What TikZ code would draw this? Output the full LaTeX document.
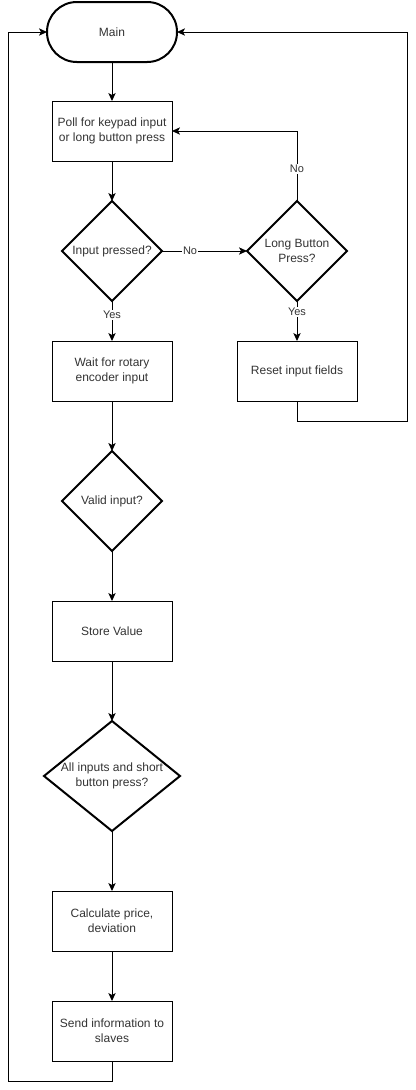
\documentclass[tikz,border=0pt]{standalone}
\usepackage{fontspec}
\setmainfont{Liberation Sans}
\usetikzlibrary{shapes.geometric,positioning,arrows.meta}
\tikzstyle{process} = [draw, line width=0.75pt, minimum width=90pt, minimum height=45pt, align=center, inner sep=0pt, outer sep=0pt]
\tikzstyle{decision} = [draw, diamond, line width=1.5pt, minimum width=75pt, minimum height=75pt, aspect=1, inner sep=0pt, outer sep=0pt, align=center]
\tikzstyle{terminal} = [draw, line width=1.5pt, rounded corners=22.4pt, minimum width=97.5pt, minimum height=45pt, outer sep=0pt]
\tikzstyle{flow} = [line width=0.75pt, -{Stealth[length=6pt,width=5.5pt,inset=1.5pt]}]
\tikzstyle{answer} = [fill=white, inner sep=1pt, text=black!80, font=\fontsize{8.25}{10}\selectfont]

\begin{document}
\begin{tikzpicture}[font=\fontsize{9}{11.25}\selectfont, text=black!80]
    \useasboundingbox (0,0) rectangle (312pt,-817.5pt);

    \node [terminal] (main) at (84pt,-24pt) {Main};
    \node [process, below=29.25pt of main] (poll) {Poll for keypad input\\or long button press};
    \node [decision, below=30pt of poll] (pressed) {Input pressed?};
    \node [decision, right=63.75pt of pressed] (long) {Long Button\\Press?};
    \node [process, below=30pt of pressed] (wait) {Wait for rotary\\encoder input};
    \node [process, below=30pt of long] (reset) {Reset input fields};
    \node [decision, below=37.5pt of wait] (valid) {Valid input?};
    \node [process, below=37.5pt of valid] (store) {Store Value};
    \node [decision, minimum width=102pt, minimum height=82.5pt, aspect=1.24,
        below=45pt of store] (all) {All inputs and short\\button press?};
    \node [process, below=45pt of all] (calc) {Calculate price,\\deviation};
    \node [process, below=37.5pt of calc] (send) {Send information to\\slaves};

    \coordinate (loopleft) at (6pt,-810.75pt);
    \coordinate (loopright) at (305.25pt,-315.75pt);

    \draw [flow] (main) -- (poll);
    \draw [flow] (poll) -- (pressed);
    \draw [flow] (pressed) -- node [answer, pos=0.33] {No} (long);
    \draw [flow] (pressed) -- node [answer, pos=0.35] {Yes} (wait);
    \draw [flow] (long) |- node [answer, pos=0.23] {No} (poll);
    \draw [flow] (long) -- node [answer, pos=0.28] {Yes} (reset);
    \draw [flow] (reset.south) |- (loopright) |- (main.east);
    \draw [flow] (wait) -- (valid);
    \draw [flow] (valid) -- (store);
    \draw [flow] (store) -- (all);
    \draw [flow] (all) -- (calc);
    \draw [flow] (calc) -- (send);
    \draw [flow] (send.south) |- (loopleft) |- (main.west);
\end{tikzpicture}
\end{document}
